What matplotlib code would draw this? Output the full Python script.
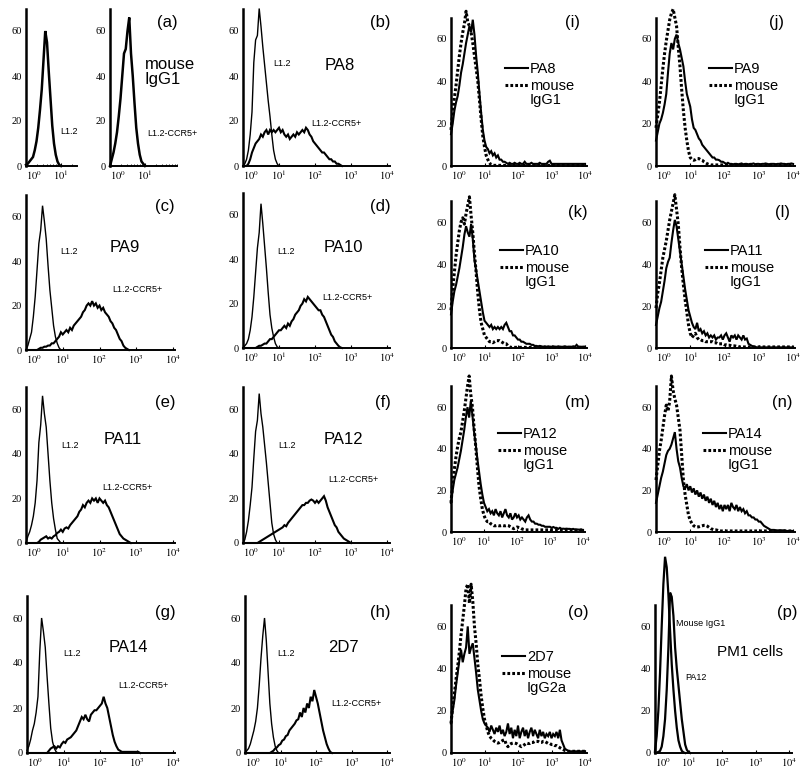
import numpy as np
import matplotlib
matplotlib.use('Agg')
import matplotlib.pyplot as plt
from matplotlib.ticker import LogLocator, NullFormatter

plt.rcParams['font.family'] = ['Liberation Sans', 'DejaVu Sans']
plt.rcParams['mathtext.fontset'] = 'stix'

STEP = 0.05          # log10 width of one histogram bin, first bin at 10^0
YTICKS = [0, 20, 40, 60]

# ---------------- data: cell counts per bin ----------------
a_l12 = [0.5, 1, 2, 3, 4, 7, 11, 17, 25, 34, 47, 60, 55, 42, 30, 18, 10, 5, 2, 0.5, 0]
a_igg1 = [0, 3, 6, 10, 15, 22, 30, 40, 50, 52, 60, 66, 50, 40, 28, 17, 10, 5, 2, 1, 0]

b_l12 = [0, 1, 3, 7, 14, 24, 46, 56, 58, 70, 62, 53, 45, 37, 29, 22, 14, 7, 3, 1, 0]
b_ccr5 = [0, 0, 0, 1, 3, 6, 8, 10, 11, 12, 14, 13, 15, 16, 14, 16, 15, 16, 15, 16,
          17, 15, 16, 14, 13, 14, 12, 13, 14, 13, 15, 14, 15, 16, 15, 17, 16, 14, 13, 11,
          10, 9, 8, 7, 6, 6, 5, 4, 3, 3, 2, 2, 1, 1, 0.5, 0]

c_l12 = [0, 2, 5, 8, 15, 24, 36, 48, 54, 65, 58, 50, 38, 27, 19, 11, 6, 3, 1, 0]
c_ccr5 = [0, 0, 0, 0, 0, 0, 0, 0.5, 1, 1, 1.5, 1.5, 2, 2, 3, 3, 4, 5, 6, 8,
          7, 8, 9, 8, 10, 9, 11, 12, 13, 14, 15, 17, 18, 20, 21, 20, 22, 20, 21, 19,
          20, 18, 19, 17, 16, 15, 13, 12, 10, 9, 7, 5, 4, 2, 1, 0.5, 0]

d_l12 = [0, 1, 2, 4, 8, 14, 23, 34, 45, 52, 65, 56, 46, 36, 25, 15, 9, 5, 2, 0.5, 0]
d_ccr5 = [0, 0, 0, 0, 0, 0, 0, 0, 0.5, 1, 1, 1.5, 2, 2, 3, 4, 4, 5, 6, 7,
          8, 8, 9, 10, 9, 11, 10, 12, 13, 15, 16, 17, 19, 20, 22, 21, 23, 22, 21, 20,
          19, 18, 17, 17, 15, 14, 12, 10, 8, 6, 5, 3, 2, 1, 0.3, 0]

e_l12 = [0, 3, 5, 8, 12, 18, 28, 45, 53, 66, 58, 52, 40, 28, 18, 11, 6, 2, 1, 0]
e_ccr5 = [0, 0, 0, 0, 0, 0, 0, 0.5, 1.5, 2, 2.5, 3, 2, 2.5, 2, 3, 3.5, 4.5, 5, 6,
          5, 6.5, 7, 6.5, 8, 9, 10, 11, 12, 14, 15, 17, 16, 18, 19, 18, 20, 19, 20, 18,
          20, 19, 18, 19, 17, 16, 14, 12, 10, 8, 6, 4, 3, 2, 1.5, 1, 0.5, 0]

f_l12 = [0, 1.5, 5, 10, 17, 25, 38, 50, 55, 67, 58, 52, 44, 36, 27, 18, 9, 4, 1.5, 0]
f_ccr5 = [0, 0, 0, 0, 0, 0, 0, 0, 0, 0.5, 1, 1.5, 2, 2.5, 3, 3.5, 4, 4.5, 5, 5.5,
          6, 6.5, 7, 8, 7.5, 9, 10, 11, 12, 13, 14, 15, 16, 17, 17, 18, 18, 19, 19.5, 19,
          18, 19, 18, 19, 20, 21, 19, 16, 14, 12, 10, 8, 7, 5, 4, 3, 2, 1.5, 1, 0.5, 0]

g_l12 = [1, 3, 6, 10, 13, 18, 25, 45, 60, 54, 47, 34, 22, 11, 5, 2, 0.5, 0]
g_ccr5 = [0, 0, 0, 0, 0, 0, 0, 0, 0, 0, 0, 0, 1, 2, 2.5, 3, 2, 3, 2.5, 4,
          5, 4.5, 6, 6.5, 7, 8, 9, 10, 12, 14, 16, 15, 17, 15, 14, 17, 18, 19, 19, 20,
          21, 22, 25, 22, 20, 16, 12, 8, 5, 3, 1.5, 1, 0.5, 0.5, 0.5, 0.5, 0.5, 0.5, 0.5, 0.5,
          0.5, 0.5, 0]

h_l12 = [0, 1, 2, 4, 7, 10, 14, 20, 30, 42, 52, 60, 50, 36, 22, 13, 7, 3, 1, 0]
h_ccr5 = [0, 0, 0, 0, 0, 0, 0, 0, 0, 0, 0, 0, 0, 0, 0, 0.5, 1, 2, 2.5, 3.5,
          4, 5.5, 6, 7.5, 8, 10, 11, 12, 13, 14.5, 15, 18, 16, 20, 18, 22, 20, 25, 23, 28,
          25, 22, 18, 14, 10, 7, 4, 2, 0.5, 0]

i_pa8 = [15, 20, 26, 30, 33, 38, 44, 48, 53, 58, 62, 66, 63, 69, 62, 52, 44, 34, 25, 17,
         12, 9, 8, 6, 7, 5, 6, 4, 5, 3, 3, 2, 2, 1.5, 1, 1.5, 1, 1, 1.5, 1,
         1, 1.5, 1, 1, 2, 1, 1, 1, 1.5, 1, 1, 1, 1, 1.5, 1, 1, 1, 1, 2, 2.5,
         1, 1, 1, 1, 1, 1, 1, 1, 1, 1, 1, 1, 1, 1, 1, 1, 1, 1, 1, 1, 1]
i_igg1 = [17, 25, 32, 38, 45, 52, 58, 63, 67, 73, 68, 66, 63, 58, 52, 46, 40, 31, 22, 14,
          9, 5, 3, 1.5, 0.5, 0.3, 0.3, 0.3, 0.3, 0.3, 0.3, 0.3, 0.3, 0.3, 0.3, 0.3, 0.3, 0.3, 0.3, 0.3,
          0.3, 0.3, 0.3, 0.3, 0.3, 0.3, 0.3, 0.3, 0.3, 0.3, 0.3, 0.3, 0.3, 0.3, 0.3, 0.3, 0.3, 0.3, 0.3, 0.3,
          0.3, 0.3, 0.3, 0.3, 0.3, 0.3, 0.3, 0.3, 0.3, 0.3, 0.3, 0.3, 0.3, 0.3, 0.3, 0.3, 0.3, 0.3, 0.3, 0.3, 0.3]

j_pa9 = [12, 16, 20, 22, 25, 29, 34, 44, 53, 58, 55, 60, 62, 58, 55, 51, 47, 40, 34, 31,
         28, 22, 18, 17, 15, 13, 12, 10, 9, 8, 7, 6, 5, 4, 4, 3, 3, 2.7, 2, 2,
         1.5, 1, 1.5, 1, 1, 0.8, 1, 1, 0.8, 1, 1.2, 0.8, 1, 1, 0.8, 1, 1, 1.2, 0.8, 1,
         1, 0.8, 1, 1, 1.2, 1, 0.8, 1, 1, 1, 0.8, 1, 1, 1.2, 1, 1, 0.8, 1, 1, 1.2, 1]
j_igg1 = [18, 24, 30, 38, 46, 53, 59, 64, 69, 72, 74, 70, 66, 56, 47, 36, 26, 18, 12, 7,
          4, 3, 2.7, 3, 3.5, 3.5, 3, 2.7, 2, 1.5, 1, 0.7, 0.5, 0.5, 0.5, 0.5, 0.5, 0.5, 0.5, 0.5,
          0.5, 0.5, 0.5, 0.5, 0.5, 0.5, 0.5, 0.5, 0.5, 0.5, 0.5, 0.5, 0.5, 0.5, 0.5, 0.5, 0.5, 0.5, 0.5, 0.5,
          0.5, 0.5, 0.5, 0.5, 0.5, 0.5, 0.5, 0.5, 0.5, 0.5, 0.5, 0.5, 0.5, 0.5, 0.5, 0.5, 0.5, 0.5, 0.5, 0.5, 0.5]

k_pa10 = [16, 22, 27, 30, 34, 38, 43, 48, 54, 58, 55, 53, 59, 52, 42, 37, 32, 27, 22, 17,
          13, 12, 11, 10, 11, 9, 10, 9, 10, 9, 10, 9, 11, 12, 10, 8, 8, 6, 6, 5,
          4, 4, 3, 3, 2.5, 2, 2, 2, 1.5, 1.5, 1, 1, 0.8, 1, 0.8, 0.6, 0.8, 0.6, 0.8, 0.6,
          0.6, 0.8, 0.6, 0.6, 0.8, 0.6, 0.6, 0.6, 0.8, 0.6, 0.6, 0.6, 0.6, 0.8, 0.6, 1.5, 0.6, 0.6, 0.6, 0.6, 0.6]
k_igg1 = [18, 28, 36, 44, 50, 56, 60, 62, 59, 64, 68, 72, 63, 55, 45, 36, 26, 18, 12, 9,
          6, 5, 4, 3, 3, 2.5, 3, 3.5, 3.5, 3.5, 3, 2.5, 2, 2, 1, 0.5, 0.3, 0.3, 0.3, 0.3,
          0.3, 0.3, 0.3, 0.3, 0.3, 0.3, 0.3, 0.3, 0.3, 0.3, 0.3, 0.3, 0.3, 0.3, 0.3, 0.3, 0.3, 0.3, 0.3, 0.3,
          0.3, 0.3, 0.3, 0.3, 0.3, 0.3, 0.3, 0.3, 0.3, 0.3, 0.3, 0.3, 0.3, 0.3, 0.3, 0.3, 0.3, 0.3, 0.3, 0.3, 0.3]

l_pa11 = [11, 15, 19, 22, 27, 32, 38, 41, 43, 50, 56, 61, 58, 52, 46, 40, 34, 28, 23, 18,
          15, 12, 10, 9, 12, 8, 9, 7, 8, 6, 7, 5, 6, 5, 6, 4, 5, 5, 6, 4,
          6, 7, 5, 3, 6, 5, 6, 4, 6, 5, 4, 6, 4, 4.5, 2, 1.5, 1, 0.7, 0.5, 0.3,
          0.3, 0.3, 0.3, 0.3, 0.3, 0.3, 0.3, 0.3, 0.3, 0.3, 0.3, 0.3, 0.3, 0.3, 0.3, 0.3, 0.3, 0.3, 0.3, 0.3, 0.3]
l_igg1 = [19, 26, 31, 37, 43, 47, 51, 56, 61, 65, 69, 73, 66, 59, 48, 38, 30, 23, 17, 11,
          7, 5, 6, 7, 5, 4, 4, 3.5, 3.5, 3, 3, 3, 3, 3, 2.5, 2.5, 2, 2, 2, 2,
          1.5, 1.5, 1.3, 1.3, 1, 1, 1, 0.8, 0.8, 0.5, 0.5, 0.5, 0.5, 0.5, 0.5, 0.5, 0.5, 0.5, 0.5, 0.5,
          0.5, 0.5, 0.5, 0.5, 0.5, 0.5, 0.5, 0.5, 0.5, 0.5, 0.5, 0.5, 0.5, 0.5, 0.5, 0.5, 0.5, 0.5, 0.5, 0.5, 0.5]

m_pa12 = [14, 20, 25, 28, 31, 35, 39, 44, 49, 55, 60, 55, 63, 56, 48, 42, 35, 29, 23, 18,
          14, 12, 10, 11, 9, 10, 8, 11, 9, 8, 10, 7, 9, 11, 8, 7, 9, 6, 7, 9,
          7, 8, 6, 7, 6, 5, 7, 8, 6, 5, 5, 4, 4, 3.5, 3.5, 3, 3, 2.5, 2.5, 2.5,
          2.5, 2, 2.4, 2, 2, 1.5, 2, 1.5, 1.6, 1.5, 1.6, 1.5, 1.5, 1.2, 1.5, 1.2, 1, 1.2, 1, 1, 1]
m_igg1 = [14, 23, 30, 36, 41, 45, 48, 53, 58, 64, 70, 75, 66, 60, 50, 41, 31, 22, 16, 11,
          8, 6, 5, 5, 4, 3.5, 3, 3, 3.2, 3, 3, 3.2, 3, 3, 3.2, 3, 2.5, 2, 1.6, 2,
          2.4, 2.2, 2, 1.5, 1.2, 1, 1, 1, 1, 1, 1, 1, 1, 1, 1, 1, 1, 1, 1, 1,
          1, 1, 1, 1, 1, 1, 1, 1, 1, 1, 1, 1, 1, 1, 1, 1, 1, 1, 1, 1, 1]

n_pa14 = [14, 18, 22, 26, 29, 33, 37, 39, 40, 42, 45, 48, 40, 34, 31, 26, 22, 21, 23, 20,
          22, 19, 21, 18, 20, 17, 19, 16, 18, 15, 17, 14, 16, 13, 15, 12, 14, 11, 13, 10,
          13, 11, 13, 10, 14, 12, 11, 13, 10, 12, 10, 11, 9, 10, 8, 8, 7, 7, 6, 6,
          5, 5, 4, 3, 2.5, 2, 1.5, 1, 1, 1, 0.8, 0.8, 0.8, 0.8, 0.8, 0.8, 0.5, 0.5, 0.5, 0.5, 0.5]
n_igg1 = [25, 32, 39, 44, 50, 56, 61, 58, 63, 75, 68, 64, 61, 55, 49, 37, 25, 18, 13, 8,
          5.6, 4, 3, 2.5, 2.4, 2.5, 2.8, 3, 3.2, 3.2, 2.8, 2.2, 1.6, 1.3, 1, 1, 0.8, 0.5, 0.5, 0.5,
          0.5, 0.5, 0.5, 0.5, 0.5, 0.5, 0.5, 0.5, 0.5, 0.5, 0.5, 0.5, 0.5, 0.5, 0.5, 0.5, 0.5, 0.5, 0.5, 0.5,
          0.5, 0.5, 0.5, 0.5, 0.5, 0.5, 0.5, 0.5, 0.5, 0.5, 0.5, 0.5, 0.5, 0.5, 0.5, 0.5, 0.5, 0.5, 0.5, 0.5, 0.5]

o_2d7 = [14, 20, 25, 32, 38, 44, 49, 43, 47, 50, 60, 47, 50, 52, 45, 38, 30, 25, 20, 16,
         14, 13, 12, 10, 13, 11, 9, 12, 10, 13, 9, 11, 8, 10, 14, 9, 12, 7, 11, 8,
         13, 7, 10, 12, 8, 11, 7, 10, 12, 8, 11, 9, 7, 11, 8, 10, 7, 9, 8, 10,
         7, 9, 8, 10, 7, 11, 6, 4, 2, 1.5, 1, 0.8, 0.8, 0.8, 0.8, 0.8, 0.8, 0.8, 0.8, 0.8, 0.8]
o_igg2a = [14, 22, 28, 35, 41, 48, 56, 63, 70, 78, 80, 71, 80, 72, 60, 52, 42, 35, 27, 21,
           16, 13, 10, 8, 7, 6.3, 5.5, 5, 4.7, 5, 5.5, 6, 6.3, 4, 3, 4, 4.5, 4.7, 4.7, 4.5,
           4, 3.5, 3, 3.5, 4, 4.7, 4.5, 4.5, 5, 5, 5.5, 5.5, 5.5, 5, 5, 5.5, 5.5, 5, 4.5, 4.5,
           4, 4, 3.5, 3.5, 3, 2.5, 2, 1.6, 1.2, 1, 0.8, 0.8, 0.8, 0.8, 0.8, 0.8, 0.8, 0.8, 0.8, 0.8, 0.8]

p_igg1 = [1, 8, 20, 38, 60, 80, 93, 88, 75, 58, 42, 30, 20, 12, 6, 3, 1, 0.3, 0]
p_pa12 = [0, 0.2, 0.5, 1, 3, 8, 16, 30, 50, 76, 74, 65, 50, 40, 32, 24, 16, 10, 4, 1.5, 0.5, 0]

W, H = 800, 773
YMAX = 75
fig = plt.figure(figsize=(W / 100, H / 100), dpi=100)


def fx(x):
    return x / W


def fy(y):
    return 1 - y / H


def panel(x0, x1, yb, s, dp):
    """axes whose y axis sits at pixel x0, baseline at pixel yb"""
    hi = (x1 - x0) / dp
    ax = fig.add_axes([fx(x0), fy(yb), (x1 - x0) / W, YMAX * s / H])
    ax.set_xscale('log')
    ax.set_xlim(1, 10 ** hi)
    ax.set_ylim(0, YMAX)
    ax.patch.set_visible(False)
    ax.spines['top'].set_visible(False)
    ax.spines['right'].set_visible(False)
    ax.spines['left'].set_bounds(0, 70)
    ax.spines['left'].set_linewidth(1.8)
    ax.spines['bottom'].set_linewidth(1.4)
    dec = [k for k in range(5) if k <= hi + 1e-6]
    ax.set_xticks([10.0 ** k for k in dec], labels=[r'$10^{%d}$' % k for k in dec])
    # the 10^0 label starts at the y axis instead of being centred on it
    ax.get_xticklabels()[0].set_horizontalalignment('left')
    ax.xaxis.set_minor_locator(LogLocator(base=10, subs=np.arange(2, 10)))
    ax.xaxis.set_minor_formatter(NullFormatter())
    ax.set_yticks(YTICKS)
    ax.tick_params(axis='y', length=0, pad=3, labelsize=7.5,
                   labelfontfamily='Liberation Serif')
    ax.tick_params(axis='x', which='major', direction='in', length=2.5, width=0.8,
                   pad=2, labelsize=7.5)
    ax.tick_params(axis='x', which='minor', direction='in', length=1.5, width=0.6)
    return ax


def hist(ax, vals, lw=1.4, dotted=False):
    x = 10 ** (np.arange(len(vals)) * STEP)
    ls = (0, (0.9, 0.7)) if dotted else '-'
    line, = ax.plot(x, vals, color='black', lw=lw, ls=ls, clip_on=False,
                    solid_joinstyle='miter')
    return line


def txt(x, y, s, size, ha='center', **kw):
    fig.text(fx(x), fy(y), s, fontsize=size, ha=ha, va='center', **kw)


def legend(ax, solid, dotted, name, ctrl, x, y):
    first, second = ctrl.split('\n')
    leg = ax.legend([solid, dotted], [name, first], loc='upper left',
                    bbox_to_anchor=(fx(x), fy(y)), bbox_transform=fig.transFigure,
                    frameon=False, fontsize=10.5, handlelength=1.55,
                    handletextpad=0.15, labelspacing=0.22, borderpad=0,
                    borderaxespad=0)
    # continuation line of the control label, set under its first line
    fig.canvas.draw()
    bb = leg.get_texts()[1].get_window_extent()
    fig.text(bb.x0 / W, (bb.y0 + bb.y1) / 2 / H - 13.5 / H, second,
             fontsize=10.5, ha='left', va='center')


# ---------------- left block: L1.2 vs L1.2-CCR5+ ----------------
ax = panel(26, 77, 166, 2.25, 35)
hist(ax, a_l12, lw=1.8)
ax = panel(110, 177, 166, 2.25, 35)
hist(ax, a_igg1, lw=1.8)
txt(167, 23, '(a)', 12)
txt(145, 72, 'mouse\nIgG1', 12, ha='left', linespacing=0.95)
txt(69, 132, 'L1.2', 6.5)
txt(172, 133, 'L1.2-CCR5+', 6.5)

left_rows = [
    # axes geometry, L1.2, CCR5+, letter, name, label positions
    ((243, 390, 166, 2.25, 36), b_l12, b_ccr5, '(b)', 'PA8',
     (380, 23), (340, 65), (282, 63), (336, 124)),
    ((26, 175, 350, 2.22, 36.75), c_l12, c_ccr5, '(c)', 'PA9',
     (165, 207), (125, 248), (69, 252), (137, 290)),
    ((243, 390, 348, 2.22, 36), d_l12, d_ccr5, '(d)', 'PA10',
     (380, 207), (343, 248), (286, 252), (347, 297)),
    ((26, 175, 543, 2.23, 36.75), e_l12, e_ccr5, '(e)', 'PA11',
     (165, 403), (123, 440), (70, 446), (127, 488)),
    ((243, 390, 543, 2.23, 36), f_l12, f_ccr5, '(f)', 'PA12',
     (383, 403), (343, 440), (287, 446), (353, 480)),
    ((27, 175, 753, 2.25, 36.5), g_l12, g_ccr5, '(g)', 'PA14',
     (165, 612), (128, 648), (72, 653), (143, 686)),
    ((245, 390, 753, 2.25, 35.5), h_l12, h_ccr5, '(h)', '2D7',
     (380, 612), (343, 648), (286, 653), (356, 704)),
]
for geo, l12, ccr5, letter, name, p_let, p_name, p_l12, p_ccr5 in left_rows:
    ax = panel(*geo)
    hist(ax, l12, lw=1.0)
    hist(ax, ccr5, lw=1.5)
    txt(*p_let, letter, 12)
    txt(*p_name, name, 12)
    txt(*p_l12, 'L1.2', 6.5)
    txt(*p_ccr5, 'L1.2-CCR5+', 6.5)

# ---------------- right block: antibody vs isotype control ----------------
right_rows = [
    ((451, 587, 166, 2.12, 33.5), i_pa8, i_igg1, '(i)', 'PA8', 'mouse\nIgG1',
     (573, 23), (505, 62)),
    ((656, 795, 166, 2.12, 34.25), j_pa9, j_igg1, '(j)', 'PA9', 'mouse\nIgG1',
     (777, 23), (709, 62)),
    ((451, 587, 348, 2.1, 33.5), k_pa10, k_igg1, '(k)', 'PA10', 'mouse\nIgG1',
     (578, 212), (500, 244)),
    ((656, 795, 348, 2.1, 34.25), l_pa11, l_igg1, '(l)', 'PA11', 'mouse\nIgG1',
     (783, 212), (705, 244)),
    ((451, 585, 532, 2.08, 33), m_pa12, m_igg1, '(m)', 'PA12', 'mouse\nIgG1',
     (578, 402), (498, 427)),
    ((656, 795, 532, 2.08, 34.25), n_pa14, n_igg1, '(n)', 'PA14', 'mouse\nIgG1',
     (782, 402), (703, 427)),
    ((451, 587, 753, 2.11, 33.5), o_2d7, o_igg2a, '(o)', '2D7', 'mouse\nIgG2a',
     (578, 613), (502, 650)),
]
for geo, ab, ctrl, letter, name, ctrl_name, p_let, p_leg in right_rows:
    ax = panel(*geo)
    dline = hist(ax, ctrl, lw=2.2, dotted=True)
    sline = hist(ax, ab, lw=1.5)
    txt(*p_let, letter, 12)
    legend(ax, sline, dline, name, ctrl_name, *p_leg)

ax = panel(655, 792, 753, 2.11, 33.5)
hist(ax, p_igg1, lw=1.6)
hist(ax, p_pa12, lw=1.6)
txt(787, 613, '(p)', 12)
txt(701, 624, 'Mouse IgG1', 6.5)
txt(696, 678, 'PA12', 6.5)
txt(750, 652, 'PM1 cells', 11)

fig.savefig('out.png', dpi=100)
